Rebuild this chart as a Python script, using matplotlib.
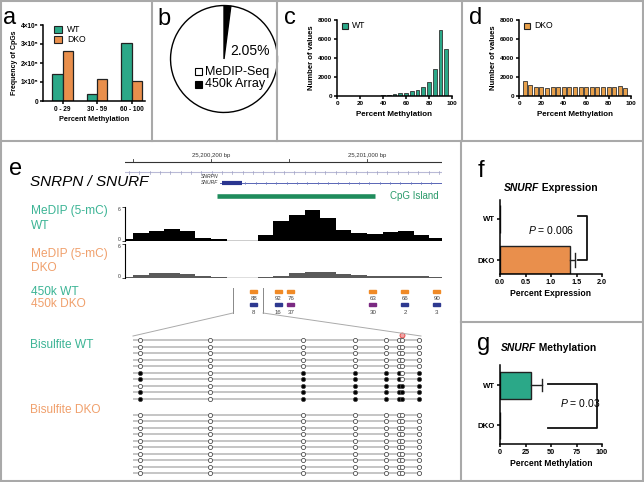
import matplotlib
matplotlib.use('Agg')
import matplotlib.pyplot as plt
import numpy as np
from matplotlib.patches import Rectangle

plt.rcParams['font.family'] = ['Liberation Sans', 'DejaVu Sans']
plt.rcParams['mathtext.fontset'] = 'custom'
plt.rcParams['mathtext.it'] = 'Liberation Sans:italic'
plt.rcParams['mathtext.rm'] = 'Liberation Sans'

# ---------------- data ----------------
# panel a
a_cats = ['0 - 29', '30 - 59', '60 - 100']
a_wt = [1.42e5, 0.35e5, 3.07e5]
a_dko = [2.63e5, 1.14e5, 1.07e5]
a_yticks = [0, 1e5, 2e5, 3e5, 4e5]
a_yticklabels = ['0', '1×10⁵', '2×10⁵', '3×10⁵', '4×10⁵']
# panel b
b_labels = ['450k Array', 'MeDIP-Seq']
b_vals = [2.05, 97.95]
# panels c, d (histograms)
hist_centers = [5, 10, 15, 20, 25, 30, 35, 40, 45, 50, 55, 60, 65, 70, 75, 80, 85, 90, 95]
c_wt = [0, 0, 0, 0, 0, 20, 40, 80, 120, 180, 280, 350, 500, 650, 950, 1500, 2800, 6900, 5000]
d_dko = [1550, 1150, 900, 900, 850, 950, 1000, 1000, 950, 1000, 1000, 1000, 1000, 950, 950, 900, 950, 1050, 800]
hist_xticks = [0, 20, 40, 60, 80, 100]
hist_yticks = [0, 2000, 4000, 6000, 8000]
# panel e
x_lo, x_hi = 25199759, 25201385
ruler_ticks = [25199800, 25200200, 25200600, 25201000]
ruler_labels = [(25200200, '25,200,200 bp'), (25201000, '25,201,000 bp')]
medip_edges = 25199720 + 80 * np.arange(22)
medip_max = 6
medip_wt = [0.41, 1.47, 1.76, 2.12, 1.71, 0.53, 0.29, 0, 0, 1.12, 3.53, 4.53, 5.53, 4.12,
            1.88, 1.47, 1.18, 1.53, 1.71, 1.12, 0.53]
medip_dko = [0.1, 0.55, 0.94, 0.94, 0.66, 0.39, 0.1, 0, 0, 0.17, 0.44, 0.94, 1.08, 1.05,
             0.72, 0.5, 0.39, 0.39, 0.39, 0.39, 0.1]
cpg_island = (25200231, 25201041)
snurf_exon = (25200256, 25200359)
snurf_span = (25200246, 25201385)
probe_pos = [25200420, 25200544, 25200610, 25201031, 25201195, 25201359]
probe_wt = [88, 92, 76, 63, 66, 90]
probe_dko = [8, 16, 37, 30, 2, 3]
zoom_region = (25200313, 25200467)
cpg_pos = [7, 77, 170, 222, 253, 266, 269, 286]
amplicon_len = 289
bis_wt = [
    [0, 0, 0, 0, 0, 0, 0, 0],
    [0, 0, 0, 0, 0, 0, 0, 0],
    [0, 0, 0, 0, 0, 0, 0, 0],
    [0, 0, 0, 0, 0, 0, 0, 0],
    [0, 0, 0, 0, 0, 0, 0, 0],
    [1, 0, 1, 1, 1, 1, 0, 1],
    [1, 0, 1, 1, 1, 1, 0, 1],
    [0, 0, 1, 1, 1, 1, 1, 1],
    [1, 0, 1, 1, 1, 1, 1, 1],
    [1, 0, 1, 1, 1, 1, 1, 1],
]
bis_dko = [[0] * 8 for _ in range(10)]
probe_cpg_index = 6
# panel f
f_groups = ['WT', 'DKO']
f_vals = [0.0, 1.37]
f_err = [0.0, 0.10]
# panel g
g_groups = ['WT', 'DKO']
g_vals = [30.0, 0.0]
g_err = [11.0, 0.0]

# ---------------- style ----------------
GREEN = '#2ba888'
ORANGE = '#e98f4c'
ORANGE_D = '#e8a04a'
TXT_GREEN = '#3cb495'
TXT_ORANGE = '#f0a06c'
BORDER = '#a9a9a9'

W, H = 644, 482
fig = plt.figure(figsize=(W / 100, H / 100), dpi=100)


def add_ax(x0, y0, x1, y1):
    ax = fig.add_axes([x0 / W, 1 - y1 / H, (x1 - x0) / W, (y1 - y0) / H])
    ax.patch.set_alpha(0)
    return ax


def prism(ax, fs):
    for s in ['top', 'right']:
        ax.spines[s].set_visible(False)
    for s in ['left', 'bottom']:
        ax.spines[s].set_linewidth(1.1)
    ax.tick_params(width=1.1, length=2.5, labelsize=fs, pad=1)


ov = add_ax(0, 0, W, H)
ov.set_xlim(0, W)
ov.set_ylim(H, 0)
ov.axis('off')
ov.set_zorder(10)

# borders
ov.add_patch(Rectangle((1, 1), W - 2, H - 2, fill=False, ec=BORDER, lw=1.5))
ov.plot([0, W], [141, 141], color=BORDER, lw=1.5)
for xv in [152, 277, 462]:
    ov.plot([xv, xv], [0, 141], color=BORDER, lw=1.5)
ov.plot([461, 461], [141, H], color=BORDER, lw=1.5)
ov.plot([461, W], [322, 322], color=BORDER, lw=1.5)

# panel letters
for lab, x, y in [('a', 3, 24), ('b', 157, 25), ('c', 284, 24), ('d', 469, 24),
                  ('e', 9, 175), ('f', 478, 177), ('g', 477, 350)]:
    ov.text(x, y, lab, fontsize=17, va='baseline', ha='left')

# ---------------- panel a ----------------
axa = add_ax(43, 25, 145, 101)
xa = np.arange(len(a_cats))
bw = 0.3
axa.bar(xa - bw / 2, a_wt, bw, color=GREEN, ec='#222', lw=0.9)
axa.bar(xa + bw / 2, a_dko, bw, color=ORANGE, ec='#222', lw=0.9)
axa.set_xlim(-0.565, 2.39)
axa.set_ylim(0, 4e5)
axa.set_xticks(xa, a_cats, fontweight='bold')
axa.set_yticks(a_yticks, a_yticklabels, fontweight='bold')
prism(axa, 4.7)
axa.set_xlabel('Percent Methylation', fontsize=5.3, fontweight='bold', labelpad=2)
axa.set_ylabel('Frequency of CpGs', fontsize=5.0, fontweight='bold', labelpad=2)
for i, (lab, col) in enumerate([('WT', GREEN), ('DKO', ORANGE)]):
    ov.add_patch(Rectangle((54, 25.5 + 10 * i), 8, 7, fc=col, ec='#222', lw=0.8))
    ov.text(67, 29 + 10 * i, lab, fontsize=6.2, va='center')

# ---------------- panel b ----------------
axb = add_ax(170, 5, 278, 113)
axb.pie(b_vals, colors=['black', 'white'], startangle=90, counterclock=False,
        wedgeprops=dict(edgecolor='black', linewidth=1.0))
axb.set_xlim(-1.01, 1.01)
axb.set_ylim(-1.01, 1.01)
axb.set_aspect('equal')
ov.text(230, 51, f'{b_vals[0]:.2f}%', fontsize=10, va='center', ha='left')
ov.add_patch(Rectangle((195, 68), 7, 7, fc='white', ec='black', lw=0.8))
ov.text(205, 71.5, b_labels[1], fontsize=9, va='center')
ov.add_patch(Rectangle((195, 81), 7, 7, fc='black', ec='black', lw=0.8))
ov.text(205, 84.5, b_labels[0], fontsize=9, va='center')

# ---------------- panels c, d ----------------
for (x0, x1, vals, col, name) in [(337, 452, c_wt, GREEN, 'WT'), (519, 631, d_dko, ORANGE_D, 'DKO')]:
    ax = add_ax(x0, 20, x1, 96)
    ax.bar(hist_centers, vals, 3.4, color=col, ec='#333', lw=0.6)
    ax.set_xlim(0, 100)
    ax.set_ylim(0, 8000)
    ax.set_xticks(hist_xticks, [str(t) for t in hist_xticks], fontweight='bold')
    ax.set_yticks(hist_yticks, [str(t) for t in hist_yticks], fontweight='bold')
    prism(ax, 4.6)
    ax.set_xlabel('Percent Methylation', fontsize=5.8, fontweight='bold', labelpad=4)
    ax.set_ylabel('Number of values', fontsize=5.6, fontweight='bold', labelpad=2)
    ov.add_patch(Rectangle((x0 + 5, 22.5), 6.5, 6.5, fc=col, ec='#222', lw=0.8))
    ov.text(x0 + 15, 26, name, fontsize=6.2, va='center')

# ---------------- panel e ----------------
ov.text(30, 182, 'SNRPN / SNURF', fontsize=11, style='italic', va='center')
ov.text(31, 211, 'MeDIP (5-mC)', fontsize=8.6, color=TXT_GREEN, va='center')
ov.text(31, 226, 'WT', fontsize=8.6, color=TXT_GREEN, va='center')
ov.text(31, 254, 'MeDIP (5-mC)', fontsize=8.6, color=TXT_ORANGE, va='center')
ov.text(31, 268, 'DKO', fontsize=8.6, color=TXT_ORANGE, va='center')
ov.text(31, 292, '450k WT', fontsize=8.6, color=TXT_GREEN, va='center')
ov.text(31, 304, '450k DKO', fontsize=8.6, color=TXT_ORANGE, va='center')
ov.text(30, 345, 'Bisulfite WT', fontsize=8.6, color=TXT_GREEN, va='center')
ov.text(30, 410, 'Bisulfite DKO', fontsize=8.6, color=TXT_ORANGE, va='center')

ann = add_ax(125, 148, 442, 205)
ann.set_xlim(x_lo, x_hi)
ann.set_ylim(205, 148)
ann.axis('off')
ann.plot([x_lo, x_hi], [162, 162], color='#333333', lw=0.8)
for t in ruler_ticks:
    ann.plot([t, t], [162, 158.5], color='#333333', lw=0.6)
for t, lab in ruler_labels:
    ann.text(t, 156, lab, fontsize=4.3, ha='center', va='center', color='#333333')
ann.plot([x_lo, x_hi], [172, 172], color='#b9bad6', lw=0.8)
for t in np.arange(x_lo + 20, x_hi, 53):
    ann.plot([t, t], [170.5, 173.5], color='#9fa0c4', lw=0.5)
ann.plot(snurf_span, [183, 183], color='#5865b5', lw=0.7)
for t in np.arange(snurf_span[0] + 130, x_hi, 53):
    ann.plot([t, t], [181.8, 184.2], color='#6f7bc0', lw=0.5)
ann.plot(snurf_exon, [183, 183], color='#2a3590', lw=3, solid_capstyle='butt')
ann.text(snurf_span[0] - 10, 177, 'SNRPN', fontsize=3.6, style='italic', ha='right', va='center', color='#333')
ann.text(snurf_span[0] - 10, 183, 'SNURF', fontsize=3.6, style='italic', ha='right', va='center', color='#333')
ann.plot(cpg_island, [196, 196], color='#1f8c5c', lw=3.3, solid_capstyle='butt')
ann.text(cpg_island[1] + 75, 196, 'CpG Island', fontsize=7, color='#2a9a6a', va='center')

for (y0, y1, vals, col) in [(207, 241, medip_wt, 'black'), (244, 278, medip_dko, '#5a5a5a')]:
    ax = add_ax(125, y0, 442, y1)
    ax.stairs(vals, medip_edges, fill=True, color=col, lw=0)
    ax.set_xlim(x_lo, x_hi)
    ax.set_ylim(0, medip_max)
    ax.axhline(0, color=col, lw=1.0)
    for s in ['top', 'right', 'bottom']:
        ax.spines[s].set_visible(False)
    ax.spines['left'].set_linewidth(0.8)
    ax.set_xticks([])
    ax.set_yticks([0, medip_max], ['', ''])
    ax.tick_params(axis='y', length=2, width=0.5)
    ov.text(121, y0 + 2.5, str(medip_max), fontsize=3.6, ha='right', va='center', color='#333')
    ov.text(121, y1 - 1.5, '0', fontsize=3.6, ha='right', va='center', color='#333')

a4 = add_ax(125, 285, 442, 318)
a4.set_xlim(x_lo, x_hi)
a4.set_ylim(318, 285)
a4.axis('off')


def probe_color(v):
    if v >= 50:
        return '#f08a26'
    if v >= 20:
        return '#7b2a82'
    return '#2e3990'


for p, vw, vd in zip(probe_pos, probe_wt, probe_dko):
    a4.add_patch(Rectangle((p - 18, 289.8), 36, 3, color=probe_color(vw)))
    a4.text(p, 298, str(vw), fontsize=4.4, ha='center', va='center', color='#444')
    a4.add_patch(Rectangle((p - 18, 302.8), 36, 3, color=probe_color(vd)))
    a4.text(p, 312, str(vd), fontsize=4.4, ha='center', va='center', color='#444')
for zx in zoom_region:
    a4.plot([zx, zx], [288, 313], color='#888', lw=0.7)

# zoom connector lines (pixel space)
ov.plot([233, 133], [313, 336], color='#aaaaaa', lw=0.7)
ov.plot([263, 421], [313, 336], color='#aaaaaa', lw=0.7)

axl = add_ax(133, 330, 422, 478)
axl.set_xlim(0, amplicon_len)
axl.set_ylim(21.07, -1.53)
axl.axis('off')
rows = [(i, r) for i, r in enumerate(bis_wt)] + [(11.45 + i * 0.99, r) for i, r in enumerate(bis_dko)]
for y, r in rows:
    axl.plot([0, amplicon_len], [y, y], color='#b5b5b5', lw=1.1, zorder=1)
    for xp, m in zip(cpg_pos, r):
        axl.plot(xp, y, 'o', ms=3.0, mec='#444', mew=0.55,
                 mfc='black' if m else 'white', zorder=3, clip_on=False)
axl.plot(cpg_pos[probe_cpg_index], -0.76, 'o', ms=3.6, mfc='#f3a3a3', mec='#e04040', mew=0.6, clip_on=False)

# ---------------- panel f ----------------
axf = add_ax(500, 200, 602, 274)
yf = [1, 0]
axf.barh(yf, f_vals, 0.7, color=[GREEN, ORANGE], ec='#222', lw=1.0)
for v, e, y in zip(f_vals, f_err, yf):
    if e > 0:
        axf.plot([v, v + e], [y, y], color='#222', lw=1.0)
        axf.plot([v + e, v + e], [y - 0.18, y + 0.18], color='#222', lw=1.0)
axf.set_xlim(0, 2.0)
axf.set_ylim(-0.34, 1.46)
axf.set_xticks([0, 0.5, 1.0, 1.5, 2.0], ['0.0', '0.5', '1.0', '1.5', '2.0'], fontweight='bold')
axf.set_yticks(yf, f_groups, fontweight='bold')
prism(axf, 5.2)
axf.tick_params(axis='y', labelsize=5.6)
axf.set_xlabel('Percent Expression', fontsize=6.2, fontweight='bold', labelpad=2)
axf.plot([1.53, 1.70, 1.70, 1.53], [1.07, 1.07, 0.0, 0.0], color='#111', lw=1.3, clip_on=False)
axf.text(1.0, 0.73, '$P$ = 0.006', fontsize=7.5, ha='center', va='center')
ov.text(539, 188, 'SNURF', fontsize=7.4, style='italic', fontweight='bold', ha='right', va='center')
ov.text(539, 188, ' Expression', fontsize=7.4, fontweight='bold', ha='left', va='center')

# ---------------- panel g ----------------
axg = add_ax(500, 365, 602, 444)
yg = [1, 0]
axg.barh(yg, g_vals, 0.675, color=[GREEN, ORANGE], ec='#222', lw=1.0)
for v, e, y in zip(g_vals, g_err, yg):
    if e > 0:
        axg.plot([v, v + e], [y, y], color='#222', lw=1.0)
        axg.plot([v + e, v + e], [y - 0.16, y + 0.16], color='#222', lw=1.0)
axg.set_xlim(0, 100)
axg.set_ylim(-0.475, 1.5)
axg.set_xticks([0, 25, 50, 75, 100], ['0', '25', '50', '75', '100'], fontweight='bold')
axg.set_yticks(yg, g_groups, fontweight='bold')
prism(axg, 5.2)
axg.tick_params(axis='y', labelsize=5.6)
axg.set_xlabel('Percent Methylation', fontsize=6.2, fontweight='bold', labelpad=2)
axg.plot([47, 95, 95, 47], [1.02, 1.02, -0.08, -0.08], color='#111', lw=1.3, clip_on=False)
axg.text(79, 0.55, '$P$ = 0.03', fontsize=7.5, ha='center', va='center')
ov.text(536, 348, 'SNURF', fontsize=7.4, style='italic', fontweight='bold', ha='right', va='center')
ov.text(536, 348, ' Methylation', fontsize=7.4, fontweight='bold', ha='left', va='center')

fig.savefig('out.png', dpi=100)
